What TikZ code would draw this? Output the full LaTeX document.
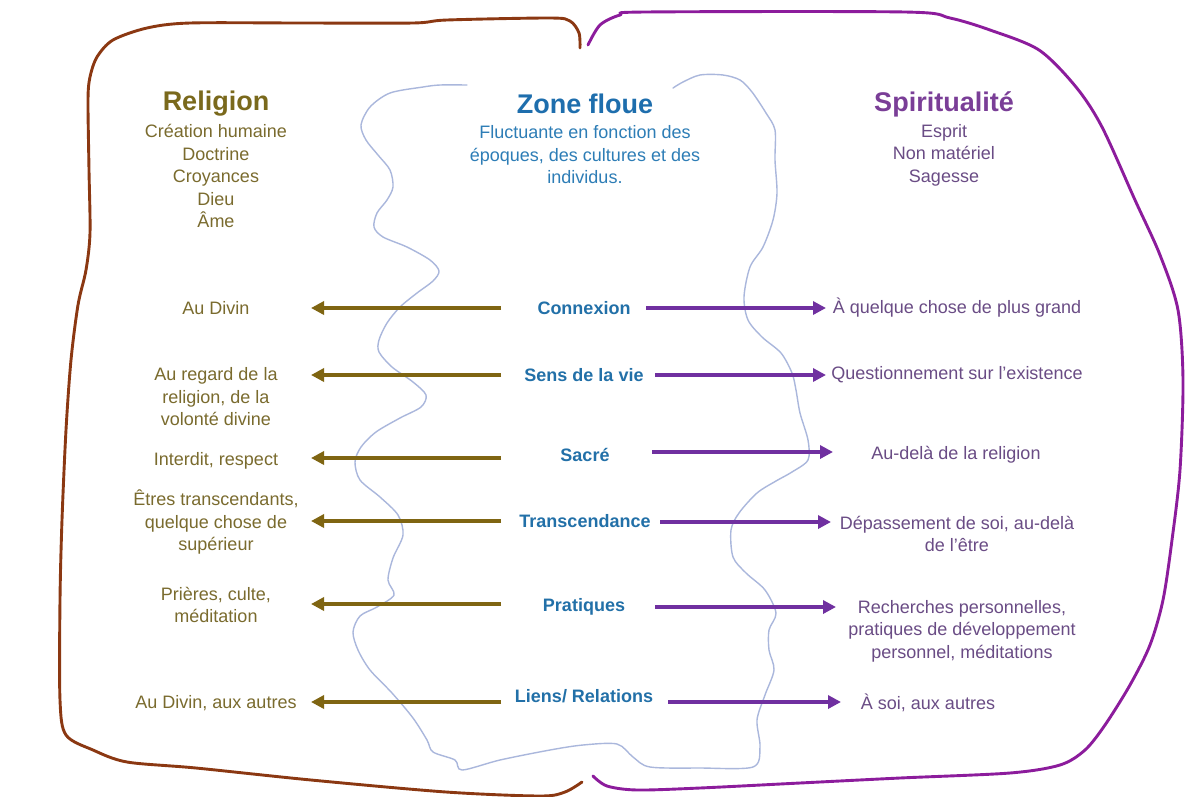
\documentclass[tikz,border=0pt]{standalone}
\usepackage{fontspec}
\setmainfont{Liberation Sans}
\usetikzlibrary{arrows.meta}
\definecolor{relT}{HTML}{7A691C}
\definecolor{relB}{HTML}{7A6B2E}
\definecolor{relA}{HTML}{7F6512}
\definecolor{zoneT}{HTML}{1E6EAD}
\definecolor{zoneB}{HTML}{2D7DB6}
\definecolor{zoneL}{HTML}{2270A8}
\definecolor{spiT}{HTML}{7A3E97}
\definecolor{spiB}{HTML}{6A4C85}
\definecolor{spiA}{HTML}{7030A0}
\definecolor{brownline}{HTML}{8B3812}
\definecolor{purpleline}{HTML}{8C1C9C}
\definecolor{pencil}{HTML}{AAB7DC}
\begin{document}
\begin{tikzpicture}[x=1pt,y=-1pt,
  title/.style={font=\bfseries\fontsize{27}{30}\selectfont, inner sep=0pt},
  body/.style={font=\fontsize{18}{22.5}\selectfont, align=center, inner sep=0pt},
  lab/.style={font=\bfseries\fontsize{18}{22}\selectfont, text=zoneL, inner sep=0pt},
  barrow/.style={draw=relA, line width=4pt, -{Triangle[length=13pt,width=13pt]}},
  parrow/.style={draw=spiA, line width=4pt, -{Triangle[length=13pt,width=13pt]}},
  outline/.style={line width=2.9pt, line cap=round, line join=round},
  pencilline/.style={draw=pencil, line width=1.4pt, line cap=round}]
\useasboundingbox (0,0) rectangle (1187,796);
\fill[white] (0,0) rectangle (1187,796);

% brown outline (Religion)
\draw[outline, brownline] plot[smooth, tension=0.5] coordinates {
 (580,48) (579,33) (570,21) (550,18) (447,20) (413,23) (300,23) (190,23)
 (147,28) (113,40) (97,57) (90,77) (88,100) (89,170) (90,233) (86,270)
 (78,305) (71,360) (66,430) (62,520) (60,600) (60,700) (66,735) (93,750)
 (127,762) (196,768) (311,780) (446,792) (540,796) (565,792) (582,782)};

% purple outline (Spiritualite)
\draw[outline, purpleline] plot[smooth, tension=0.5] coordinates {
 (588,45) (600,25) (620,15) (645,12) (905,12) (950,18) (990,30) (1039,50)
 (1076,87) (1102,127) (1135,200) (1160,255) (1178,310) (1183,380) (1180,470)
 (1172,540) (1163,600) (1150,645) (1130,685) (1105,725) (1085,750) (1060,765)
 (1010,773) (900,778) (800,783) (700,788) (637,790) (607,786) (593,776)};

% pencil line (zone floue)
\draw[pencilline] plot[smooth, tension=0.5] coordinates {
 (467,85) (440,85) (423,87) (390,93) (370,107) (361,125) (366,140) (378,155)
 (390,170) (393,187) (387,200) (377,213) (374,227) (383,237) (407,247)
 (430,260) (439,271) (433,281) (417,293) (400,307) (387,323) (379,340)
 (379,352) (392,367) (413,382) (426,395) (421,407) (400,418) (376,432)
 (361,447) (355,462) (360,480) (380,497) (398,515) (403,535) (393,558)
 (388,580) (394,595) (377,607) (360,616) (353,632) (358,650) (370,670)
 (392,693) (413,718) (427,740) (433,752) (455,760) (462,770) (500,760)
 (550,750) (583,745) (617,744) (633,757) (650,767) (700,768) (753,767)
 (760,747) (757,720) (765,695) (774,670) (769,650) (769,630) (776,613)
 (765,590) (746,573) (733,557) (731,530) (739,513) (757,493) (776,481)
 (792,472) (808,460) (808,440) (800,413) (796,390) (792,373) (781,353)
 (762,337) (748,320) (744,297) (750,267) (763,247) (773,220) (777,193)
 (775,160) (775,130) (766,113) (752,92) (740,80) (723,75) (700,75) (683,82) (673,88)};

% headers
\node[title, text=relT] (relt) at (216,104) {Religion};
\node[body, text=relB] (relb) at (216,176) {Création humaine\\Doctrine\\Croyances\\Dieu\\Âme};
\node[title, text=zoneT] (zonet) at (585,104) {Zone floue};
\node[body, text=zoneB] (zoneb) at (585,155) {Fluctuante en fonction des\\époques, des cultures et des\\individus.};
\node[title, text=spiT] (spit) at (944,104) {Spiritualité};
\node[body, text=spiB] (spib) at (944,155) {Esprit\\Non matériel\\Sagesse};

% row 1
\node[body, text=relB] (l1) at (216,308) {Au Divin};
\node[lab] (c1) at (584,308) {Connexion};
\node[body, text=spiB] (r1) at (957,308) {À quelque chose de plus grand};
\coordinate (b1s) at (501,308); \coordinate (b1e) at (311,308);
\coordinate (p1s) at (646,308); \coordinate (p1e) at (826,308);
\draw[barrow] (b1s) -- (b1e);
\draw[parrow] (p1s) -- (p1e);

% row 2
\node[body, text=relB] (l2) at (216,397) {Au regard de la\\religion, de la\\volonté divine};
\node[lab] (c2) at (584,375) {Sens de la vie};
\node[body, text=spiB] (r2) at (957,375) {Questionnement sur l’existence};
\coordinate (b2s) at (501,375); \coordinate (b2e) at (311,375);
\coordinate (p2s) at (655,375); \coordinate (p2e) at (826,375);
\draw[barrow] (b2s) -- (b2e);
\draw[parrow] (p2s) -- (p2e);

% row 3
\node[body, text=relB] (l3) at (216,461) {Interdit, respect};
\node[lab] (c3) at (585,455) {Sacré};
\node[body, text=spiB] (r3) at (956,455) {Au-delà de la religion};
\coordinate (b3s) at (501,458); \coordinate (b3e) at (311,458);
\coordinate (p3s) at (652,452); \coordinate (p3e) at (833,452);
\draw[barrow] (b3s) -- (b3e);
\draw[parrow] (p3s) -- (p3e);

% row 4
\node[body, text=relB] (l4) at (216,522) {Êtres transcendants,\\quelque chose de\\supérieur};
\node[lab] (c4) at (585,521) {Transcendance};
\node[body, text=spiB] (r4) at (957,534) {Dépassement de soi, au-delà\\de l’être};
\coordinate (b4s) at (501,521); \coordinate (b4e) at (311,521);
\coordinate (p4s) at (660,522); \coordinate (p4e) at (831,522);
\draw[barrow] (b4s) -- (b4e);
\draw[parrow] (p4s) -- (p4e);

% row 5
\node[body, text=relB] (l5) at (216,605) {Prières, culte,\\méditation};
\node[lab] (c5) at (584,607) {Pratiques};
\node[body, text=spiB] (r5) at (962,631) {Recherches personnelles,\\pratiques de développement\\personnel, méditations};
\coordinate (b5s) at (501,604); \coordinate (b5e) at (311,604);
\coordinate (p5s) at (655,607); \coordinate (p5e) at (836,607);
\draw[barrow] (b5s) -- (b5e);
\draw[parrow] (p5s) -- (p5e);

% row 6
\node[body, text=relB] (l6) at (216,703) {Au Divin, aux autres};
\node[lab] (c6) at (584,696) {Liens/ Relations};
\node[body, text=spiB] (r6) at (928,703) {À soi, aux autres};
\coordinate (b6s) at (501,702); \coordinate (b6e) at (311,702);
\coordinate (p6s) at (668,702); \coordinate (p6e) at (841,702);
\draw[barrow] (b6s) -- (b6e);
\draw[parrow] (p6s) -- (p6e);
\end{tikzpicture}
\end{document}
